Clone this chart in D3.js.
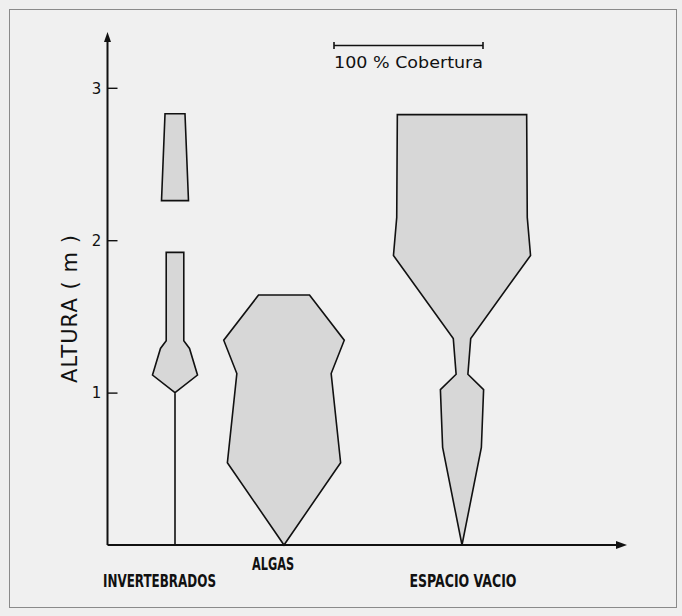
<!DOCTYPE html>
<html><head><meta charset="utf-8">
<script src="https://cdn.jsdelivr.net/npm/d3@7"></script>
<style>
html,body{margin:0;padding:0;background:#efefef;}
svg{display:block;}
</style></head>
<body>
<script>
// ---- data ----
const categories = ["INVERTEBRADOS", "ALGAS", "ESPACIO VACIO"];
// heights (m) and cover (%) along each kite outline, top to bottom
const invertebradosUpperH = [2.83, 2.26];
const invertebradosUpperC = [13.4, 18.1];
const invertebradosLowerH = [1.92, 1.34, 1.29, 1.115, 1.0, 0];
const invertebradosLowerC = [11.8, 11.8, 19.5, 30.2, 0, 0];
const algasH = [1.64, 1.344, 1.125, 0.54, 0];
const algasC = [34.2, 80.9, 63.3, 76.0, 0];
const espacioH = [2.824, 2.15, 1.9, 1.355, 1.12, 1.02, 0.64, 0];
const espacioC = [86.8, 87.6, 92.0, 11.7, 7.9, 29.0, 26.0, 0];
const yTicks = [1, 2, 3];
const yLabel = "ALTURA ( m )";
const scaleLabel = "100 % Cobertura";

// ---- layout ----
const W = 682, H = 616;
const svg = d3.select("body").append("svg").attr("width", W).attr("height", H);

svg.append("rect").attr("x", 9.5).attr("y", 9.5).attr("width", 667).attr("height", 598)
  .attr("fill", "#f0f0f0").attr("stroke", "#8a8a8a").attr("stroke-width", 1);

const originX = 107.5, originY = 545;
const y = d3.scaleLinear().domain([0, 3]).range([originY, originY - 3 * 152.4]);
const cover = d3.scaleLinear().domain([0, 100]).range([0, 149]);
const center = d3.scaleOrdinal().domain(categories).range([175, 284, 462]);
const labelX = d3.scaleOrdinal().domain(categories).range([159.5, 273, 463]);
const labelY = d3.scaleOrdinal().domain(categories).range([587, 570, 587]);
const labelW = d3.scaleOrdinal().domain(categories).range([113, 42, 107]);

const kites = [
  {cat: "INVERTEBRADOS", h: invertebradosUpperH, c: invertebradosUpperC},
  {cat: "INVERTEBRADOS", h: invertebradosLowerH, c: invertebradosLowerC},
  {cat: "ALGAS", h: algasH, c: algasC},
  {cat: "ESPACIO VACIO", h: espacioH, c: espacioC}
];

const area = d3.area()
  .x0(d => d.cx - cover(d.c) / 2)
  .x1(d => d.cx + cover(d.c) / 2)
  .y(d => y(d.h))
  .curve(d3.curveLinear);

svg.append("g").selectAll("path").data(kites).join("path")
  .attr("d", k => area(k.h.map((h, i) => ({h, c: k.c[i], cx: center(k.cat)}))))
  .attr("fill", "#d7d7d7")
  .attr("stroke", "#111")
  .attr("stroke-width", 1.6)
  .attr("stroke-linejoin", "miter");

// ---- axes ----
const ax = svg.append("g").attr("stroke", "#111").attr("stroke-width", 2);
ax.append("line").attr("x1", originX).attr("y1", originY).attr("x2", originX).attr("y2", 40);
ax.append("line").attr("x1", originX).attr("y1", originY).attr("x2", 618).attr("y2", originY);
svg.append("path").attr("d", `M${originX},32 L${originX - 3.5},42 L${originX + 3.5},42 Z`).attr("fill", "#111");
svg.append("path").attr("d", `M627,${originY} L616,${originY - 4} L616,${originY + 4} Z`).attr("fill", "#111");

const yAxis = d3.axisRight(y).tickValues(yTicks).tickSize(10).tickFormat(d3.format("d"));
const yg = svg.append("g").attr("transform", `translate(${originX},0)`).call(yAxis);
yg.select(".domain").remove();
yg.selectAll(".tick line").attr("stroke", "#111").attr("stroke-width", 1.4);
yg.selectAll(".tick text")
  .attr("x", -11).attr("dy", "0.35em")
  .attr("text-anchor", "middle")
  .attr("fill", "#111")
  .style("font-family", "'DejaVu Sans', sans-serif")
  .style("font-size", "15px");

svg.append("text")
  .attr("transform", "translate(77,309) rotate(-90)")
  .attr("text-anchor", "middle")
  .attr("textLength", 148).attr("lengthAdjust", "spacing")
  .attr("fill", "#111")
  .style("font-family", "'DejaVu Sans', sans-serif")
  .style("font-size", "21px")
  .text(yLabel);

// category labels
svg.append("g").selectAll("text").data(categories).join("text")
  .attr("x", d => labelX(d)).attr("y", d => labelY(d))
  .attr("text-anchor", "middle")
  .attr("textLength", d => labelW(d)).attr("lengthAdjust", "spacingAndGlyphs")
  .attr("fill", "#111")
  .style("font-family", "'Liberation Sans Narrow', 'DejaVu Sans Condensed', sans-serif")
  .style("font-size", "17.5px")
  .style("font-weight", "bold")
  .text(d => d);

// scale bar (100 % cover)
const sb = svg.append("g").attr("stroke", "#111").attr("stroke-width", 1.6);
const sbX0 = 334, sbY = 45.5;
sb.append("line").attr("x1", sbX0).attr("x2", sbX0 + cover(100)).attr("y1", sbY).attr("y2", sbY);
sb.append("line").attr("x1", sbX0).attr("x2", sbX0).attr("y1", sbY - 3.5).attr("y2", sbY + 3.5);
sb.append("line").attr("x1", sbX0 + cover(100)).attr("x2", sbX0 + cover(100)).attr("y1", sbY - 3.5).attr("y2", sbY + 3.5);
svg.append("text")
  .attr("x", sbX0).attr("y", 68)
  .attr("textLength", cover(100)).attr("lengthAdjust", "spacingAndGlyphs")
  .attr("fill", "#111")
  .style("font-family", "'DejaVu Sans', sans-serif")
  .style("font-size", "16px")
  .text(scaleLabel);
</script>
</body></html>
